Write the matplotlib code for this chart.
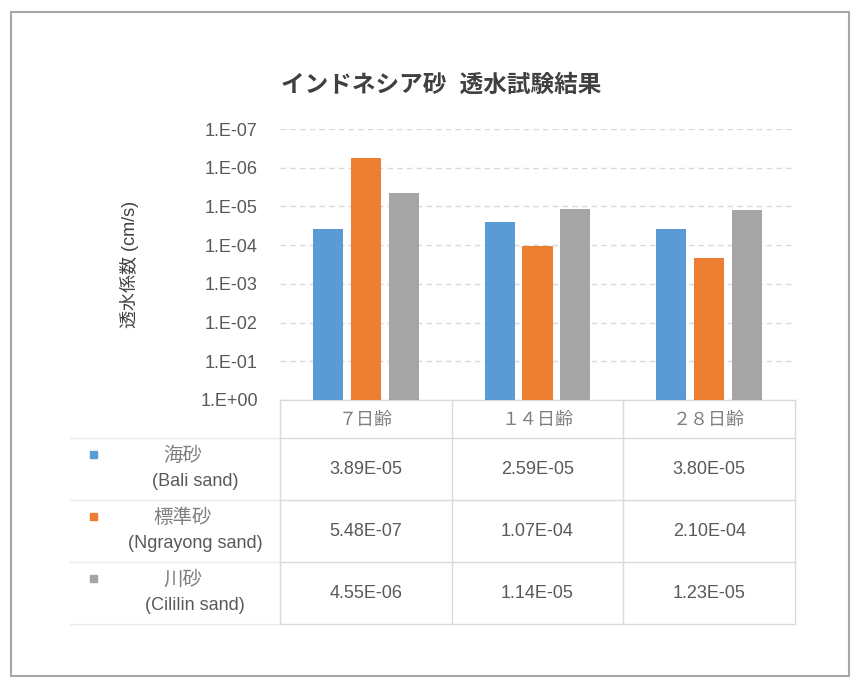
import matplotlib.pyplot as plt
from matplotlib.patches import Rectangle
from matplotlib.transforms import blended_transform_factory

plt.rcParams['font.family'] = ['Liberation Sans', 'Noto Sans CJK JP']

categories = ["７日齢", "１４日齢", "２８日齢"]
series_jp = ["海砂", "標準砂", "川砂"]
series_en = ["(Bali sand)", "(Ngrayong sand)", "(Cililin sand)"]
bali = [3.89e-05, 2.59e-05, 3.80e-05]
ngrayong = [5.48e-07, 1.07e-04, 2.10e-04]
cililin = [4.55e-06, 1.14e-05, 1.23e-05]
table_text = [
    ["3.89E-05", "2.59E-05", "3.80E-05"],
    ["5.48E-07", "1.07E-04", "2.10E-04"],
    ["4.55E-06", "1.14E-05", "1.23E-05"],
]
yticks = [1e0, 1e-1, 1e-2, 1e-3, 1e-4, 1e-5, 1e-6, 1e-7]
ytick_labels = ["1.E+00", "1.E-01", "1.E-02", "1.E-03", "1.E-04", "1.E-05", "1.E-06", "1.E-07"]
colors = ["#5B9BD5", "#ED7D31", "#A5A5A5"]

W, H = 857, 682
fig = plt.figure(figsize=(W / 100, H / 100), dpi=100)

# chart frame
fig.patches.append(Rectangle((11 / W, 1 - 676 / H), 838 / W, 664 / H, transform=fig.transFigure,
                             fill=False, edgecolor="#a6a6a6", lw=1.5))

ax = fig.add_axes([280 / W, 1 - 400 / H, 515 / W, 271 / H])
ax.set_yscale("log")
ax.set_ylim(1, 1e-7)
ax.set_xlim(-0.5, 2.5)

width = 0.175
offsets = [-0.22, 0.0, 0.22]
for vals, off, c in zip([bali, ngrayong, cililin], offsets, colors):
    xs = [i + off for i in range(len(categories))]
    ax.bar(xs, [v - 1 for v in vals], bottom=1, width=width, color=c, zorder=3)

ax.set_yticks(yticks)
ax.set_yticklabels(ytick_labels)
ax.minorticks_off()
ax.tick_params(axis="y", length=0, pad=16, labelsize=13, labelcolor="#595959")
ax.set_xticks([])
ax.grid(axis="y", color="#d9d9d9", ls=(0, (4, 3)), lw=1.0, zorder=0)
for s in ax.spines.values():
    s.set_visible(False)

ax.set_ylabel("透水係数 (cm/s)", fontsize=13, color="#404040", labelpad=44)
fig.text(441 / W, 1 - 85 / H, "インドネシア砂  透水試験結果", ha="center", va="center",
         fontsize=17, fontweight="bold", color="#404040")

# data table below the plot
tr = blended_transform_factory(ax.transData, ax.transAxes)
px = 1 / 271
cat_px = 515 / 3
line_c = "#d9d9d9"
row_lines = [0, -38, -100, -162, -224]
left_x = -0.5 - 210 / cat_px
ax.plot([-0.5, 2.5], [0, 0], transform=tr, color=line_c, lw=1, clip_on=False)
for yl in row_lines[1:]:
    ax.plot([left_x, -0.5], [yl * px] * 2, transform=tr, color="#ebebeb", lw=1, clip_on=False)
    ax.plot([-0.5, 2.5], [yl * px] * 2, transform=tr, color=line_c, lw=1, clip_on=False)
for xv in [-0.5, 0.5, 1.5, 2.5]:
    ax.plot([xv, xv], [0, row_lines[-1] * px], transform=tr, color=line_c, lw=1, clip_on=False)

for i, cat in enumerate(categories):
    ax.text(i, -20 * px, cat, transform=tr, ha="center", va="center", fontsize=13, color="#7f7f7f")

for r, c in enumerate(colors):
    yc = (row_lines[r + 1] + row_lines[r + 2]) / 2 * px
    ax.text(-0.5 - 97 / cat_px, yc + 13 * px, series_jp[r], transform=tr, ha="center", va="center",
            fontsize=14, color="#7f7f7f")
    ax.text(-0.5 - 85 / cat_px, yc - 13 * px, series_en[r], transform=tr, ha="center", va="center",
            fontsize=13, color="#595959")
    ax.add_patch(Rectangle((-0.5 - 190 / cat_px, yc + 11 * px), 7 / cat_px, 7 * px, transform=tr,
                           color=c, clip_on=False))
    for j in range(3):
        ax.text(j, yc, table_text[r][j], transform=tr, ha="center", va="center",
                fontsize=13, color="#595959")

fig.savefig("out.png", dpi=100)
